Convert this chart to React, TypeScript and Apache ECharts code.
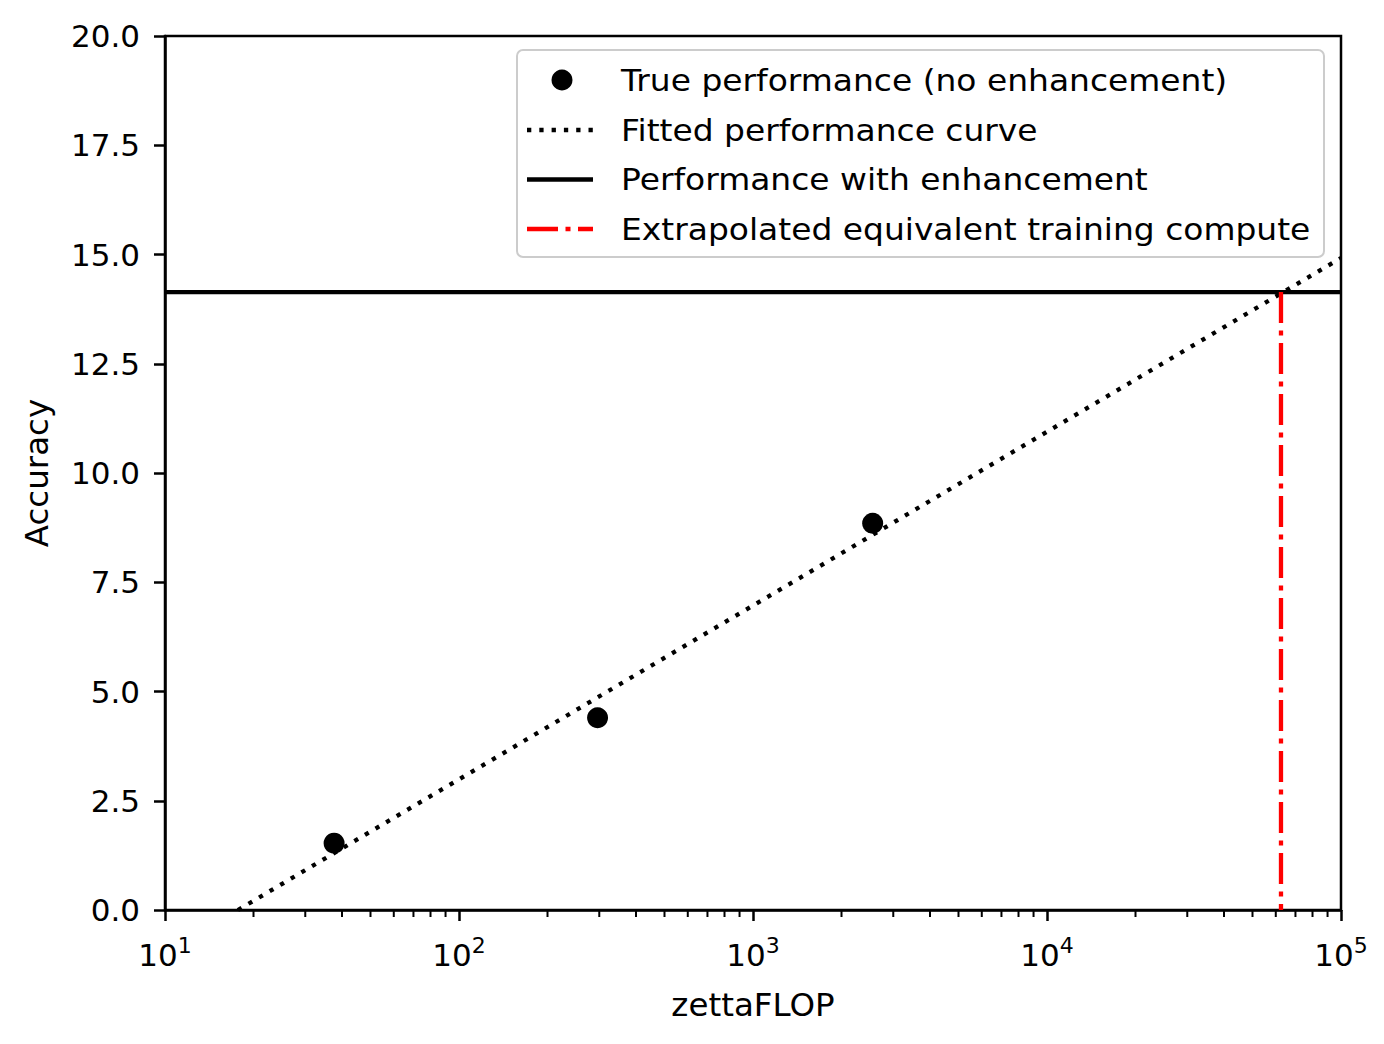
import React, { useEffect, useRef } from "react";
import * as echarts from "echarts";

const trueX = [37.6, 296, 2553];
const trueY = [1.53, 4.4, 8.85];
const fitX = [17.7, 100000];
const fitY = [0, 14.92];
const enhancedY = 14.14;
const enhancedX = [10, 100000];
const equivX = 62500;
const xMin = 10;
const xMax = 100000;
const legendNames = [
  "True performance (no enhancement)",
  "Fitted performance curve",
  "Performance with enhancement",
  "Extrapolated equivalent training compute",
];

const minorTicks: number[] = [];
for (let d = 10; d < xMax; d *= 10) {
  for (let m = 2; m <= 9; m++) minorTicks.push(d * m);
}

const FONT = "DejaVu Sans";
const FS = 31;
const DOT = [4.3, 8.0];
const DASHDOT = [31, 7.5, 5, 7.5];
const LW = 4.3;

function legendGraphic() {
  const boxX = 517;
  const boxY = 50;
  const boxW = 807;
  const boxH = 207;
  const rows = [80, 130, 179.5, 229];
  const iconL = 527;
  const iconR = 593;
  const textX = 621;
  const children: any[] = [
    {
      type: "rect",
      shape: { x: boxX, y: boxY, width: boxW, height: boxH, r: 6 },
      style: { fill: "rgba(255,255,255,0.8)", stroke: "#cccccc", lineWidth: 2 },
    },
    {
      type: "circle",
      shape: { cx: 562, cy: rows[0], r: 10.5 },
      style: { fill: "#000" },
    },
    {
      type: "line",
      shape: { x1: iconL, y1: rows[1], x2: iconR, y2: rows[1] },
      style: { stroke: "#000", lineWidth: LW, lineDash: DOT },
    },
    {
      type: "line",
      shape: { x1: iconL, y1: rows[2], x2: iconR, y2: rows[2] },
      style: { stroke: "#000", lineWidth: LW },
    },
    {
      type: "line",
      shape: { x1: iconL, y1: rows[3], x2: iconR, y2: rows[3] },
      style: { stroke: "#ff0000", lineWidth: LW, lineDash: DASHDOT },
    },
  ];
  legendNames.forEach((n, i) => {
    children.push({
      type: "text",
      x: textX,
      y: rows[i],
      scaleX: 1.062,
      style: {
        text: n,
        fill: "#000",
        font: `${FS}px "${FONT}"`,
        textVerticalAlign: "middle",
        verticalAlign: "middle",
        textAlign: "left",
      },
    });
  });
  return { type: "group", z: 100, children };
}

export default function App() {
  const ref = useRef<HTMLDivElement>(null);
  useEffect(() => {
    if (!ref.current) return;
    const chart = echarts.init(ref.current, null, { renderer: "svg" });
    chart.setOption({
      animation: false,
      backgroundColor: "#ffffff",
      textStyle: { fontFamily: FONT },
      grid: {
        left: 165,
        right: 43,
        top: 36,
        bottom: 134,
        show: true,
        borderColor: "#000",
        borderWidth: 2.5,
        backgroundColor: "transparent",
      },
      graphic: [legendGraphic()],
      xAxis: {
        type: "log",
        logBase: 10,
        min: xMin,
        max: xMax,
        name: "zettaFLOP",
        nameLocation: "middle",
        nameGap: 78,
        nameTextStyle: { fontFamily: FONT, fontSize: 32.5, color: "#000" },
        axisLine: { show: true, lineStyle: { color: "#000", width: 2.5 } },
        axisTick: { show: true, length: 11, lineStyle: { color: "#000", width: 2.5 } },
        splitLine: { show: false },
        axisLabel: {
          margin: 24,
          color: "#000",
          formatter: (v: number) => {
            const e = Math.round(Math.log10(v));
            return "{b|10}{s|" + e + "}";
          },
          rich: {
            b: { fontFamily: FONT, fontSize: FS, color: "#000", lineHeight: 36, verticalAlign: "bottom" },
            s: { fontFamily: FONT, fontSize: 22, color: "#000", lineHeight: 36, verticalAlign: "top", padding: [0, 0, 12, 0] },
          },
        },
      },
      yAxis: {
        type: "value",
        min: 0,
        max: 20,
        interval: 2.5,
        name: "Accuracy",
        nameLocation: "middle",
        nameGap: 112,
        nameTextStyle: { fontFamily: FONT, fontSize: 32.5, color: "#000" },
        axisLine: { show: true, lineStyle: { color: "#000", width: 2.5 } },
        axisTick: { show: true, length: 11, lineStyle: { color: "#000", width: 2.5 } },
        splitLine: { show: false },
        axisLabel: {
          margin: 25,
          fontFamily: FONT,
          fontSize: FS,
          color: "#000",
          formatter: (v: number) => v.toFixed(1),
        },
      },
      series: [
        {
          name: legendNames[0],
          type: "scatter",
          symbol: "circle",
          symbolSize: 21,
          itemStyle: { color: "#000", opacity: 1 },
          data: trueX.map((x, i) => [x, trueY[i]]),
          z: 5,
        },
        {
          name: legendNames[1],
          type: "line",
          symbol: "none",
          lineStyle: { color: "#000", width: LW, type: DOT, cap: "butt" },
          data: fitX.map((x, i) => [x, fitY[i]]),
          z: 3,
        },
        {
          name: legendNames[2],
          type: "line",
          symbol: "none",
          lineStyle: { color: "#000", width: LW, type: "solid" },
          data: enhancedX.map((x) => [x, enhancedY]),
          z: 3,
        },
        {
          name: legendNames[3],
          type: "line",
          symbol: "none",
          lineStyle: { color: "#ff0000", width: LW, type: DASHDOT },
          data: [
            [equivX, enhancedY],
            [equivX, 0],
          ],
          z: 3,
        },
        {
          name: "minorTicks",
          type: "custom",
          clip: false,
          silent: true,
          data: minorTicks.map((v) => [v, 0]),
          encode: { x: 0, y: 1 },
          renderItem: (params: any, api: any) => {
            const p = api.coord([api.value(0), 0]);
            return {
              type: "line",
              shape: { x1: p[0], y1: p[1], x2: p[0], y2: p[1] + 7 },
              style: { stroke: "#000", lineWidth: 2 },
            };
          },
          z: 4,
        },
      ],
    });
    return () => chart.dispose();
  }, []);
  return (
    <div
      ref={ref}
      style={{ position: "fixed", left: 0, top: 0, width: 1384, height: 1044, background: "#fff" }}
    />
  );
}
